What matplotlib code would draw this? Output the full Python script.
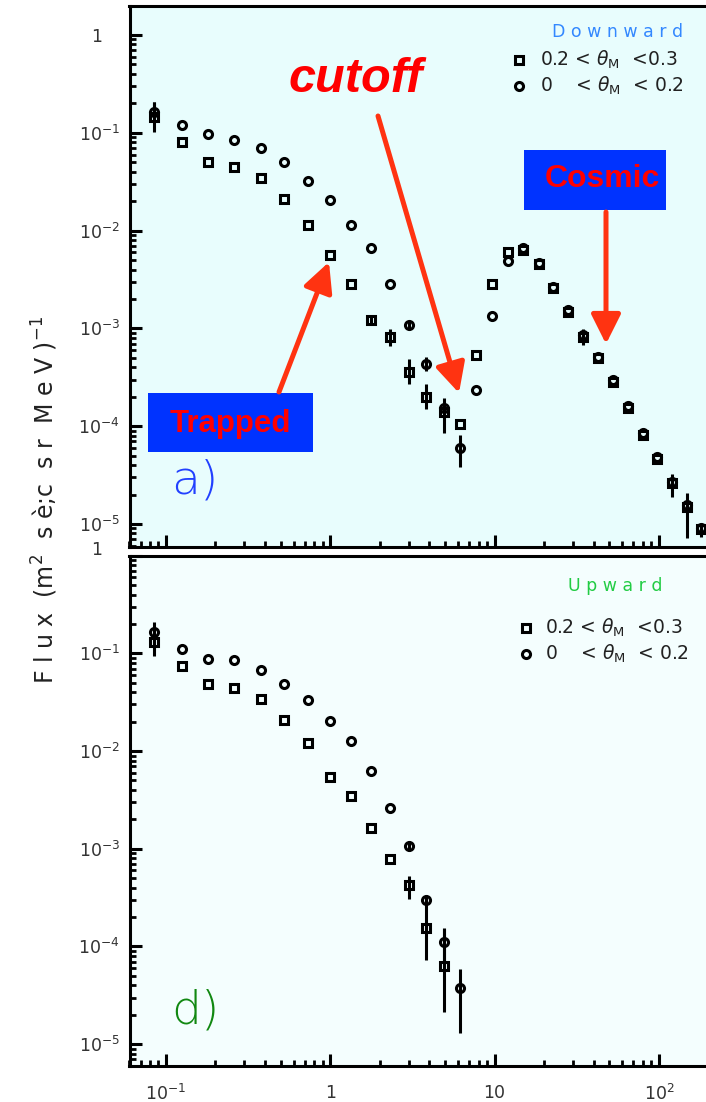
import numpy as np
import matplotlib
matplotlib.use("Agg")
import matplotlib.pyplot as plt
from matplotlib.ticker import FixedLocator, FixedFormatter, LogLocator, NullFormatter
from matplotlib.patches import Rectangle, FancyArrowPatch
from matplotlib.transforms import ScaledTranslation

# ---------------- data ----------------
energy = [0.085, 0.125, 0.18, 0.26, 0.38, 0.52, 0.73, 1.0, 1.33, 1.76, 2.3, 3.0,
          3.8, 4.9, 6.2, 7.7, 9.6, 12.0, 14.8, 18.5, 22.8, 28.1, 34.7, 42.8,
          52.4, 64.6, 79.7, 97.8, 120.0, 148.0, 180.0]

# downward flux, 0.2 < theta_M < 0.3
down_sq = [0.146, 0.0811, 0.0503, 0.0447, 0.0343, 0.0210, 0.0114, 0.00567, 0.00282,
           0.00122, 0.00081, 0.000361, 0.000200, 0.000141, 0.000105, 0.000535,
           0.00282, 0.0060, 0.00633, 0.00452, 0.00257, 0.00148, 0.000822, 0.000494,
           0.000285, 0.000155, 8.13e-5, 4.62e-5, 2.61e-5, 1.50e-5, 8.8e-6]
down_sq_lo = [0.16, 0, 0, 0, 0, 0, 0, 0, 0, 0.05, 0.09, 0.13, 0.13, 0.22, 0, 0,
              0, 0, 0, 0, 0, 0, 0.08, 0, 0, 0, 0, 0, 0.14, 0.32, 0.08]
down_sq_hi = [0.15, 0, 0, 0, 0, 0, 0, 0, 0, 0.05, 0.09, 0.13, 0.13, 0.10, 0, 0,
              0, 0, 0, 0, 0, 0, 0.08, 0, 0, 0, 0, 0, 0.09, 0.14, 0.06]

# downward flux, 0 < theta_M < 0.2
down_ci = [0.164, 0.120, 0.0972, 0.0844, 0.0694, 0.0499, 0.0324, 0.0204, 0.0114,
           0.00659, 0.00284, 0.00108, 0.000432, 0.000155, 5.94e-5, 0.000234,
           0.00135, 0.00489, 0.0066, 0.0047, 0.00268, 0.00154, 0.00086, 0.000515,
           0.000297, 0.000162, 8.5e-5, 4.8e-5, 2.72e-5, 1.56e-5, 9.2e-6]
down_ci_lo = [0.10, 0, 0, 0, 0, 0, 0, 0, 0, 0, 0, 0.04, 0.07, 0.10, 0.19, 0,
              0, 0, 0, 0, 0, 0, 0, 0, 0, 0, 0, 0, 0, 0, 0]
down_ci_hi = [0.10, 0, 0, 0, 0, 0, 0, 0, 0, 0, 0, 0.04, 0.07, 0.10, 0.14, 0,
              0, 0, 0, 0, 0, 0, 0, 0, 0, 0, 0, 0, 0, 0, 0]

# upward flux
up_energy = energy[:15]
up_sq = [0.131, 0.0747, 0.0482, 0.0445, 0.0338, 0.0206, 0.0120, 0.00546, 0.00349,
         0.00164, 0.000785, 0.000422, 0.000155, 6.34e-5]
up_sq_lo = [0.14, 0, 0, 0, 0, 0, 0, 0, 0, 0, 0, 0.14, 0.33, 0.47]
up_sq_hi = [0.10, 0, 0, 0, 0, 0, 0, 0, 0, 0, 0, 0.10, 0.28, 0.38]
up_ci = [0.166, 0.111, 0.0868, 0.0854, 0.0675, 0.0489, 0.0333, 0.0204, 0.01256,
         0.00624, 0.00259, 0.00107, 0.000301, 0.000112, 3.72e-5]
up_ci_lo = [0.12, 0, 0, 0, 0, 0, 0, 0, 0, 0, 0, 0.05, 0.05, 0.20, 0.46]
up_ci_hi = [0.10, 0, 0, 0, 0, 0, 0, 0, 0, 0, 0, 0.05, 0.05, 0.14, 0.20]

x_ticks = [0.1, 1, 10, 100]
x_labels = [r"$10^{-1}$", "1", "10", r"$10^{2}$"]
y_ticks = [1, 1e-1, 1e-2, 1e-3, 1e-4, 1e-5]
y_labels = ["1   ", r"$10^{-1}$", r"$10^{-2}$", r"$10^{-3}$", r"$10^{-4}$", r"$10^{-5}$"]

legend_labels = [r"0.2 < $\theta_{\mathrm{M}}$  <0.3", r"0    < $\theta_{\mathrm{M}}$  < 0.2"]

# ---------------- figure ----------------
W, H = 706, 1102
plt.rcParams["font.family"] = ["DejaVu Sans"]
plt.rcParams["mathtext.fontset"] = "dejavusans"
fig = plt.figure(figsize=(W / 100, H / 100), dpi=100)


def fx(x):
    return x / W


def fy(y):
    return 1 - y / H


ax_top = fig.add_axes([fx(129.5), fy(546.7), (708.4 - 129.5) / W, (546.7 - 6) / H])
ax_bot = fig.add_axes([fx(129.5), fy(1066), (708.4 - 129.5) / W, (1066 - 555.7) / H])

ax_top.set_facecolor("#e8fdfd")
ax_bot.set_facecolor("#f4fefe")


def draw_series(ax, x, y, lo, hi, marker, ms):
    x = np.asarray(x, float)
    y = np.asarray(y, float)
    lo = np.asarray(lo, float)
    hi = np.asarray(hi, float)
    yerr = np.vstack([y * (1 - 10 ** (-lo)), y * (10 ** hi - 1)])
    ax.errorbar(x, y, yerr=yerr, fmt="none", ecolor="black", elinewidth=2.2,
                capsize=0, zorder=3)
    ax.plot(x, y, linestyle="none", marker=marker, ms=ms, mec="black", mfc="none",
            mew=2.2, zorder=4)


draw_series(ax_top, energy, down_sq, down_sq_lo, down_sq_hi, "s", 6.3)
draw_series(ax_top, energy, down_ci, down_ci_lo, down_ci_hi, "o", 5.8)
draw_series(ax_bot, up_energy[:len(up_sq)], up_sq, up_sq_lo, up_sq_hi, "s", 6.3)
draw_series(ax_bot, up_energy, up_ci, up_ci_lo, up_ci_hi, "o", 5.8)

for ax, ylim in [(ax_top, (5.86e-6, 1.98)), (ax_bot, (5.97e-6, 1.0))]:
    ax.set_xscale("log")
    ax.set_yscale("log")
    ax.set_xlim(0.06, 200)
    ax.set_ylim(*ylim)
    ax.xaxis.set_major_locator(FixedLocator(x_ticks))
    ax.xaxis.set_minor_locator(LogLocator(base=10, subs=np.arange(2, 10), numticks=20))
    ax.xaxis.set_minor_formatter(NullFormatter())
    ax.yaxis.set_major_locator(FixedLocator(y_ticks))
    ax.yaxis.set_major_formatter(FixedFormatter(y_labels))
    ax.yaxis.set_minor_locator(LogLocator(base=10, subs=np.arange(2, 10), numticks=20))
    ax.yaxis.set_minor_formatter(NullFormatter())
    ax.tick_params(which="major", direction="in", length=8.6, width=2.2,
                   labelsize=12.5, labelcolor="#333333", pad=7)
    ax.tick_params(which="minor", direction="in", length=4.3, width=2.0)
    ax.tick_params(axis="x", which="major", pad=13)
    ax.tick_params(top=False, right=False)
    for s in ax.spines.values():
        s.set_linewidth(2.2)

ax_top.xaxis.set_major_formatter(NullFormatter())
ax_bot.xaxis.set_major_formatter(FixedFormatter(x_labels))

# lift the "1" label of the lower panel a little
lbl = ax_bot.yaxis.get_major_ticks()[0].label1
lbl.set_transform(lbl.get_transform() + ScaledTranslation(0, 8 / 100, fig.dpi_scale_trans))

# axis title
fig.text(fx(45), fy(500), "F l u x  (m$^{2}$  s è;c  s r  M e V )$^{-1}$", rotation=90,
         fontsize=17, color="#222222", ha="center", va="center")

# panel tags
fig.text(fx(171), fy(481), "a)", fontsize=34, color="#2240ff", ha="left", va="center",
         fontweight="light")
fig.text(fx(171), fy(1010), "d)", fontsize=34, color="#118811", ha="left", va="center",
         fontweight="light")

# headers and legends
fig.text(fx(618), fy(32), "D o w n w a r d", fontsize=12.5, color="#3388ff",
         ha="center", va="center")
fig.text(fx(615), fy(586), "U p w a r d", fontsize=12.5, color="#22cc44",
         ha="center", va="center")

for mx, my0, tx in [(519, 60, 540), (526, 628, 545)]:
    for k, (mk, ms) in enumerate([("s", 6.3), ("o", 5.8)]):
        yy = my0 + 25.5 * k
        fig.add_artist(plt.Line2D([fx(mx)], [fy(yy)], marker=mk, ms=ms, mec="black",
                                  mfc="none", mew=2.2, linestyle="none",
                                  transform=fig.transFigure))
        fig.text(fx(tx), fy(yy), legend_labels[k], fontsize=13.5, color="#222222",
                 ha="left", va="center")

# annotation boxes
blue = "#0033ff"
red_text = "#ff0000"
arrow_red = "#ff3311"
fig.add_artist(Rectangle((fx(148), fy(452)), (313 - 148) / W, (452 - 393) / H,
                         transform=fig.transFigure, facecolor=blue, edgecolor="none"))
fig.text(fx(230), fy(424), "Trapped", fontsize=22.5, fontweight="bold", color=red_text,
         ha="center", va="center", family="Liberation Sans")
fig.add_artist(Rectangle((fx(524), fy(210)), (666 - 524) / W, (210 - 150) / H,
                         transform=fig.transFigure, facecolor=blue, edgecolor="none"))
fig.text(fx(602), fy(179), "Cosmic", fontsize=23, fontweight="bold", color=red_text,
         ha="center", va="center", family="Liberation Sans")
fig.text(fx(356), fy(80), "cutoff", fontsize=35, fontweight="bold", style="italic",
         color=red_text, ha="center", va="center", family="Liberation Sans")

arrow_kw = dict(arrowstyle="-|>,head_length=0.6,head_width=0.3", color=arrow_red,
                lw=3.6, shrinkA=0, shrinkB=0, mutation_scale=30)
for start, tip in [((279, 392), (329, 262)), ((378, 116), (459, 393)),
                   ((606, 212), (606, 344))]:
    fig.add_artist(FancyArrowPatch((fx(start[0]), fy(start[1])), (fx(tip[0]), fy(tip[1])),
                                   transform=fig.transFigure, **arrow_kw))

fig.savefig("out.png", dpi=100)
